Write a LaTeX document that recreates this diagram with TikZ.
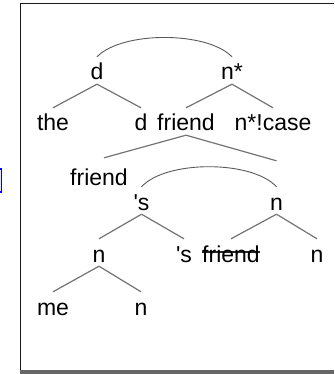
\documentclass[tikz,border=0pt]{standalone}
\usepackage{fontspec}
\setmainfont{Liberation Sans}
\usepackage{tikz}
\usetikzlibrary{positioning}

\begin{document}
\begin{tikzpicture}[
    x=1pt, y=-1pt,
    word/.style={font=\fontsize{23}{26}\selectfont, inner sep=0pt, text height=23pt, text depth=4pt, anchor=base},
    branch/.style={draw=black!55, line width=1.2pt},
    link/.style={draw=black!65, line width=0.9pt},
    struck/.style={path picture={\draw[line width=1.3pt, black!85]
        ([yshift=14pt]path picture bounding box.south west) -- ([yshift=14pt]path picture bounding box.south east);}},
]
\useasboundingbox (0,0) rectangle (334,374);

% Frame
\draw[line width=1.8pt, black!90] (334,3.5) -- (20.4,3.5) -- (20.4,374);
\fill[black!60] (20,369.5) rectangle (334,374);
\draw[blue, fill=blue!12, line width=1.3pt] (-6,169) rectangle (1.3,192);

% Top level
\node[word] (d) at (97,80) {d};
\node[word] (nstar) at (232,80) {n*};
\node[word] (the) at (53,131) {the};
\node[word] (dd) at (141,131) {d};
\node[word] (fr) at (186,131) {friend};
\node[word] (case) at (273,131) {n*!case};

% Possessive part
\node[word] (fr2) at (99,185) {friend};
\node[word] (poss) at (141.5,210) {\textquotesingle s};
\node[word] (n1) at (276.5,210) {n};
\node[word] (n2) at (99,262) {n};
\node[word] (poss2) at (184,262) {\textquotesingle s};
\node[word, struck] (fr3) at (231,262) {friend};
\node[word] (n3) at (317,262) {n};
\node[word] (me) at (53,315) {me};
\node[word] (n4) at (141,315) {n};

% Arcs
\draw[link] (d.north) .. controls (122,31) and (207,31) .. (nstar.north);
\draw[link] (poss.north) .. controls (166,160) and (252,160) .. (n1.north);

% Branches
\draw[branch] (d.south) -- (the.north);
\draw[branch] (d.south) -- (dd.north);
\draw[branch] (nstar.south) -- (fr.north);
\draw[branch] (nstar.south) -- (case.north);
\draw[branch] (fr.south) -- ([xshift=5pt,yshift=4pt]fr2.north);
\draw[branch] (fr.south) -- ([yshift=26pt]n1.north);
\draw[branch] (poss.south) -- (n2.north);
\draw[branch] (poss.south) -- (poss2.north);
\draw[branch] (n1.south) -- (fr3.north);
\draw[branch] (n1.south) -- (n3.north);
\draw[branch] (n2.south) -- (me.north);
\draw[branch] (n2.south) -- (n4.north);
\end{tikzpicture}
\end{document}
